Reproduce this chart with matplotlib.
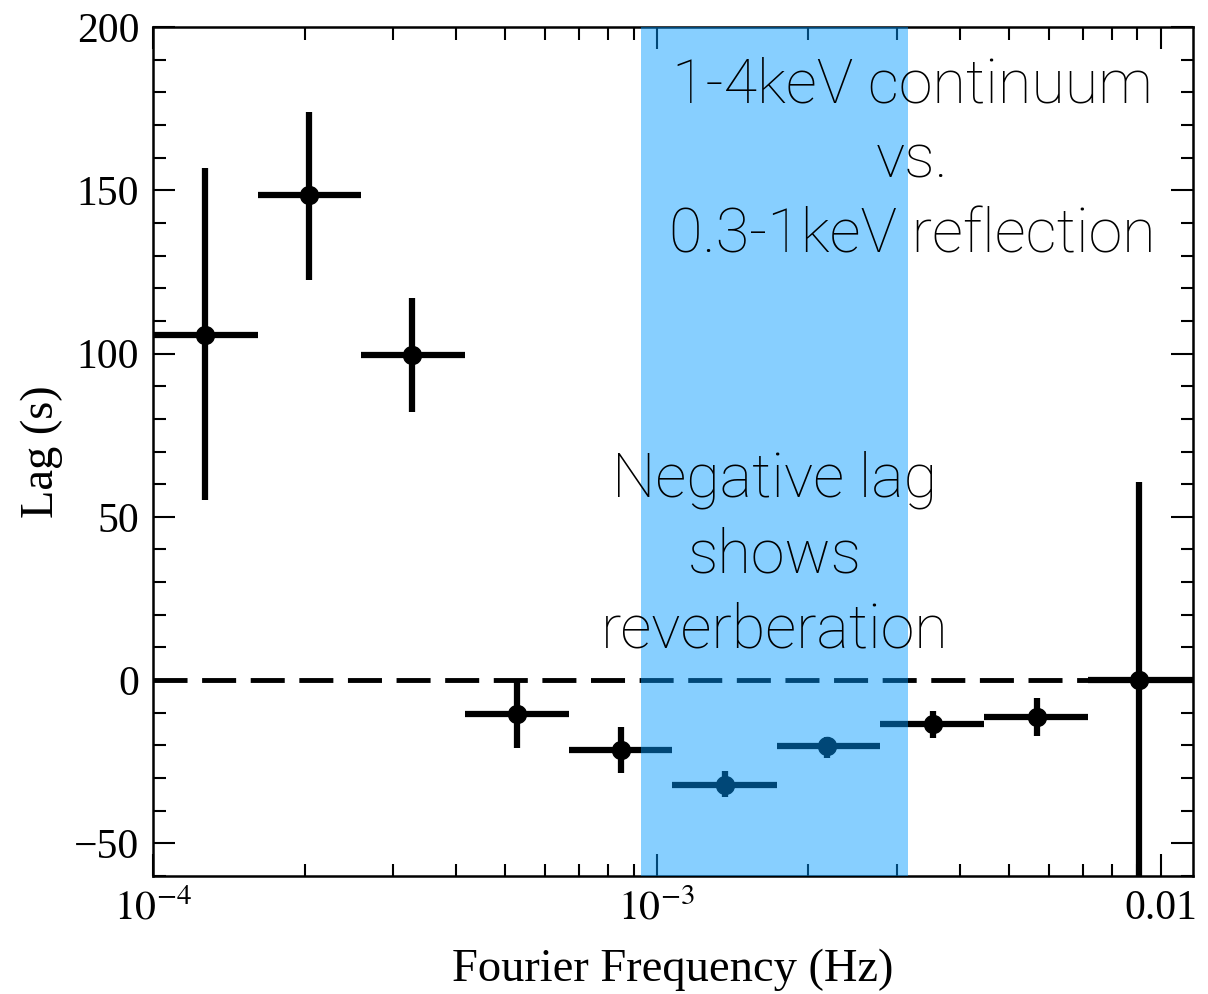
import numpy as np
import matplotlib
matplotlib.use('Agg')
import matplotlib.pyplot as plt
from matplotlib import ticker

# Lag-frequency spectrum: 1-4 keV continuum vs 0.3-1 keV reflection
freq = [1.27e-4, 2.04e-4, 3.27e-4, 5.27e-4, 8.49e-4, 1.365e-3, 2.18e-3, 3.53e-3, 5.68e-3, 9.08e-3]
f_lo = [1.0e-4, 1.615e-4, 2.59e-4, 4.16e-4, 6.69e-4, 1.07e-3, 1.73e-3, 2.78e-3, 4.46e-3, 7.17e-3]
f_hi = [1.615e-4, 2.59e-4, 4.16e-4, 6.69e-4, 1.07e-3, 1.73e-3, 2.78e-3, 4.46e-3, 7.17e-3, 1.16e-2]
lag = [105.6, 148.5, 99.5, -10.4, -21.4, -32.1, -20.2, -13.5, -11.3, 0.0]
lag_up = [51.2, 25.5, 17.5, 10.4, 7.0, 4.2, 2.7, 4.0, 5.8, 60.6]
lag_dn = [50.5, 26.0, 17.5, 10.4, 7.1, 3.7, 3.7, 4.3, 5.8, 80.0]
band = [9.29e-4, 3.15e-3]  # highlighted frequency range (Hz)

plt.rcParams['font.family'] = ['Liberation Serif', 'DejaVu Serif']
plt.rcParams['mathtext.fontset'] = 'stix'

fig = plt.figure(figsize=(12.08, 9.94), dpi=100)
ax = fig.add_axes([0.1267, 0.1187, 0.8609, 0.8541])

freq = np.array(freq)
xerr = [freq - np.array(f_lo), np.array(f_hi) - freq]
ax.errorbar(freq, lag, xerr=xerr, yerr=[lag_dn, lag_up], fmt='o', color='k',
            ms=13, elinewidth=4.5, capsize=0, zorder=3)
ax.axhline(0, color='k', ls=(0, (7, 3)), lw=3.5, zorder=2)
ax.axvspan(band[0], band[1], color='#0099ff', alpha=0.47, lw=0, zorder=4)

ax.set_xscale('log')
ax.set_xlim(1e-4, 1.16e-2)
ax.set_ylim(-60, 200)

def fmt_x(v, pos):
    if abs(v - 0.01) < 1e-6:
        return '0.01'
    return r'$10^{%d}$' % int(round(np.log10(v)))

ax.xaxis.set_major_locator(ticker.FixedLocator([1e-4, 1e-3, 1e-2]))
ax.xaxis.set_major_formatter(ticker.FuncFormatter(fmt_x))
ax.xaxis.set_minor_locator(ticker.LogLocator(subs=np.arange(2, 10)))
ax.xaxis.set_minor_formatter(ticker.NullFormatter())
ax.yaxis.set_major_locator(ticker.MultipleLocator(50))
ax.yaxis.set_minor_locator(ticker.MultipleLocator(10))

ax.tick_params(which='both', direction='in', top=True, right=True, width=1.5,
               labelsize=30, pad=10)
ax.tick_params(which='major', length=16)
ax.tick_params(which='minor', length=9)
for s in ax.spines.values():
    s.set_linewidth(1.8)

ax.set_xlabel('Fourier Frequency (Hz)', fontsize=33.5, labelpad=14)
ax.set_ylabel('Lag (s)', fontsize=33.5, labelpad=8)

note = dict(transform=ax.transAxes, ha='center', va='center', multialignment='center',
            fontsize=44, family=['Roboto', 'DejaVu Sans'], fontweight='light',
            linespacing=1.37, zorder=5)
ax.text(0.730, 0.843, '1-4keV continuum\nvs.\n0.3-1keV reflection', **note)
ax.text(0.598, 0.378, 'Negative lag\nshows\nreverberation', **note)

fig.savefig('out.png', dpi=100)
